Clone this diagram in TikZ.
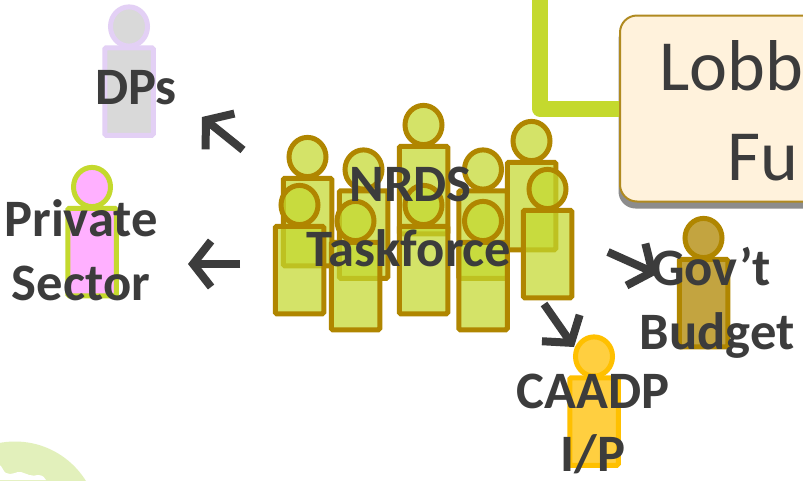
\documentclass[tikz,border=0pt]{standalone}
\usepackage{fontspec}
\setmainfont{Carlito}
\usetikzlibrary{arrows.meta}
\definecolor{ink}{HTML}{3C3C3C}
\definecolor{lime}{HTML}{C4D92E}
\definecolor{olive}{HTML}{B08600}
\definecolor{lav}{HTML}{E3D0F5}
\definecolor{gold}{HTML}{FFC000}
\definecolor{pinkfill}{HTML}{FFB0FF}
\definecolor{greyfill}{HTML}{D9D9D9}
\definecolor{creamfill}{HTML}{FFF2DC}
\definecolor{paleblob}{HTML}{E2F0BB}
\definecolor{shadowgrey}{HTML}{8C8C8C}
\definecolor{boxedge}{HTML}{B08A20}
\tikzset{
  bodyshape/.style={draw,rectangle,rounded corners=1.5pt,line width=5pt,minimum width=48.5pt,minimum height=87.5pt,inner sep=0pt,outer sep=0pt},
  headshape/.style={draw,circle,line width=5pt,inner sep=0pt,outer sep=0pt,minimum size=37pt,yscale=1.06},
  team/.style={draw=olive,fill=lime,fill opacity=.72},
  dpstyle/.style={draw=lav,fill=greyfill},
  psstyle/.style={draw=lime,fill=pinkfill},
  gvstyle/.style={draw=olive,fill=olive,fill opacity=.75},
  castyle/.style={draw=gold,fill=gold,fill opacity=.75},
  lbl/.style={text=ink,font=\fontsize{52.6}{52.6}\selectfont\bfseries,anchor=base,inner sep=0pt},
  big/.style={text=ink,font=\fontsize{72}{72}\selectfont,anchor=base west,inner sep=0pt},
  pointer/.style={draw=ink,line width=8pt,-{Straight Barb[length=18pt,width=46pt,line width=8pt]}},
  wire/.style={draw=lime,line width=16pt,line join=round},
  lobbybox/.style={draw=boxedge,line width=2pt,fill=creamfill,rounded corners=17pt,minimum width=300pt,minimum height=186pt,inner sep=0pt},
}
\newcommand{\personfig}[4]{%
  \node[headshape,#4] (#1h) at (#2,#3-65) {};
  \node[bodyshape,#4] (#1b) at (#2,#3) {};
}
\begin{document}
\begin{tikzpicture}[x=1pt,y=-1pt]
\clip (0,0) rectangle (803,480);
\fill[white] (0,0) rectangle (803,480);
% corner blob
\fill[paleblob] (15,525) circle (83.5);
\fill[white] (-2,480) -- (-2,464) .. controls (3,466) and (3,472) .. (6,473) .. controls (12,476) and (16,471) .. (21,472) .. controls (27,474) and (32,477) .. (38,475) .. controls (43,475) and (45,478) .. (46,480) -- cycle;
% back row
\personfig{a}{307.5}{222}{team}
\personfig{b}{363.5}{234.5}{team}
\personfig{c}{423.5}{190}{team}
\personfig{d}{483}{234.5}{team}
\personfig{e}{531.5}{206}{team}
% front row
\personfig{f}{299.5}{270}{team}
\personfig{g}{355.5}{286}{team}
\personfig{h}{423.5}{270}{team}
\personfig{i}{483}{286}{team}
\personfig{j}{547.5}{254}{team}
% others
\personfig{dp}{129}{91.5}{dpstyle}
\personfig{ps}{92}{252}{psstyle}
\personfig{gv}{703.5}{303}{gvstyle}
\personfig{ca}{594}{421.5}{castyle}
% lobby box
\coordinate (wiretop) at (540,-12);
\node[lobbybox,draw=none,fill=shadowgrey,anchor=west] (lobbyshadow) at (617.5,115.5) {};
\node[lobbybox,anchor=west] (lobby) at (619,108.5) {};
\draw[wire] (wiretop) |- (lobby.west);
\node[big] (lobbytxt) at (659,90) {Lobb};
\node[big] (futxt) at (727,180) {Fu};
% labels
\node[lbl] (nrds) at (410.5,201) {NRDS};
\node[lbl] (task) at (409,266) {Taskforce};
\node[lbl] (dps) at (136,104) {DPs};
\node[lbl] (priv) at (81,236) {Private};
\node[lbl] (sect) at (81,300) {Sector};
\node[lbl] (govt) at (711,285) {Gov’t};
\node[lbl] (budg) at (717,349) {Budget};
\node[lbl] (caadp) at (593,408) {CAADP};
\node[lbl] (ip) at (593,471) {I/P};
% pointers
\coordinate (t1) at (243,150);
\coordinate (e1) at (202,117);
\coordinate (t2) at (240,264);
\coordinate (e2) at (188,264);
\coordinate (t3) at (608,252);
\coordinate (e3) at (657,274);
\coordinate (t4) at (544,304);
\coordinate (e4) at (574,347);
\draw[pointer] (t1) -- (e1);
\draw[pointer] (t2) -- (e2);
\draw[pointer] (t3) -- (e3);
\draw[pointer] (t4) -- (e4);
\end{tikzpicture}
\end{document}
